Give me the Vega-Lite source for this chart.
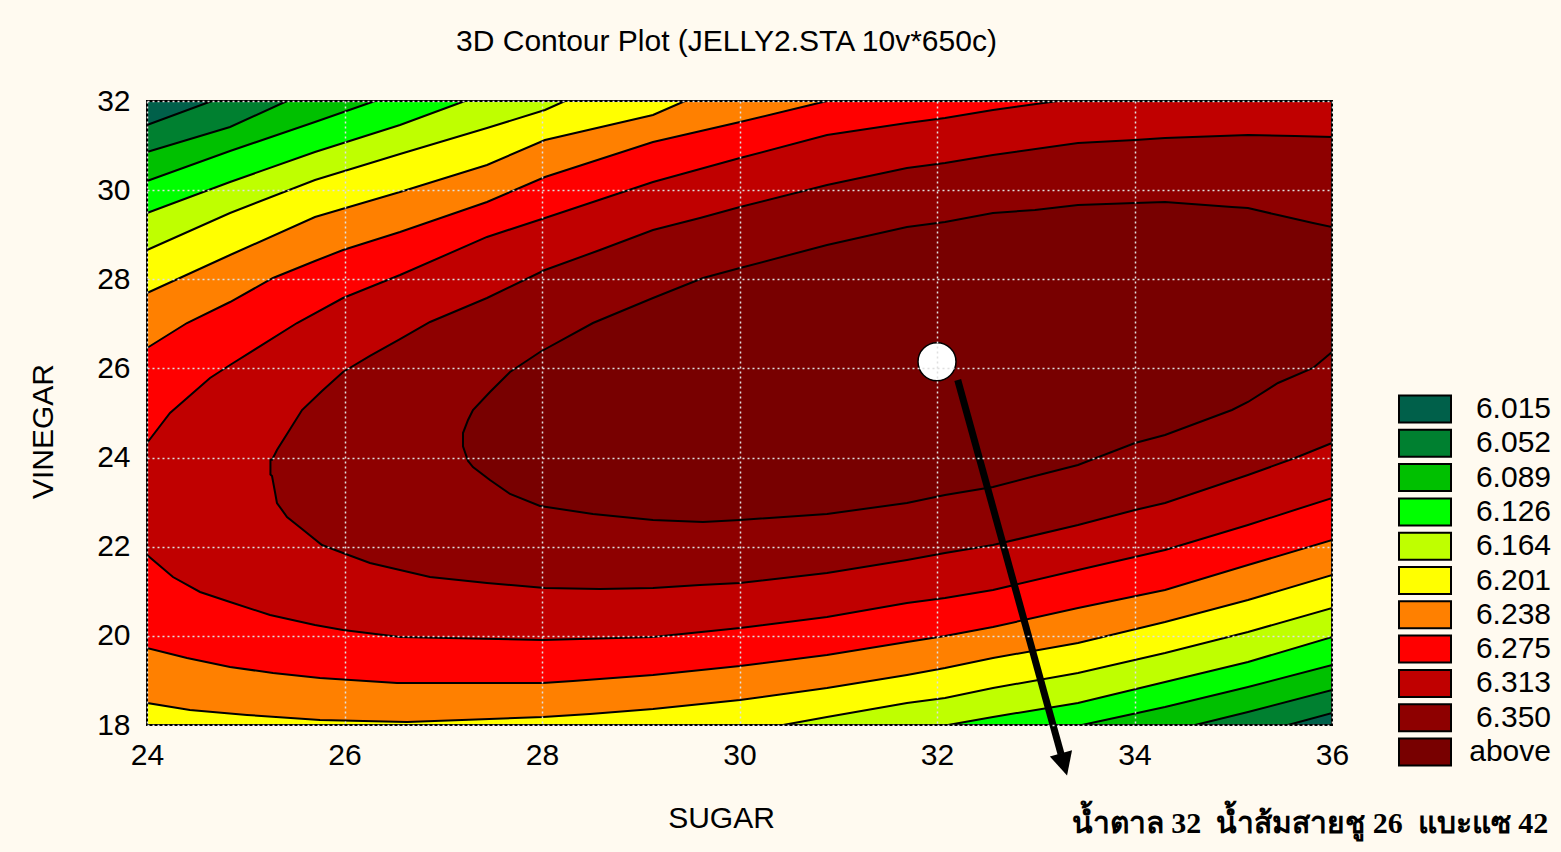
{
"$schema": "https://vega.github.io/schema/vega-lite/v6.json",
"width": 1185, "height": 624,
"autosize": {"type": "none"},
"padding": {"left": 147, "top": 101, "right": 229, "bottom": 127},
"background": "#FFFAF0",
"title": {"text": "3D Contour Plot (JELLY2.STA 10v*650c)", "font": "Liberation Sans", "fontSize": 30, "fontWeight": "normal", "color": "#000", "anchor": "middle", "dx": -13, "offset": 5, "baseline": "alphabetic"},
"config": {
  "view": {"stroke": "#000", "strokeWidth": 2},
  "axis": {"labelFont": "Liberation Sans", "labelFontSize": 30, "labelColor": "#000", "titleFont": "Liberation Sans", "titleFontSize": 30, "titleFontWeight": "normal", "titleColor": "#000", "ticks": false, "domain": false, "grid": true, "gridColor": "#e0e0e0", "gridDash": [2, 3], "gridWidth": 1.5, "labelFlush": false, "labelOverlap": false, "format": "d"}
},
"layer": [
{
  "data": {"values": [
    {"id":"bg","band":"6.313","x":24,"lo":18,"hi":32},{"id":"bg","band":"6.313","x":36,"lo":18,"hi":32},
    {"id":"t8","band":"6.275","x":24.0,"lo":24.327,"hi":32},{"id":"t8","band":"6.275","x":24.233,"lo":25.0,"hi":32},{"id":"t8","band":"6.275","x":24.638,"lo":25.785,"hi":32},{"id":"t8","band":"6.275","x":24.841,"lo":26.077,"hi":32},{"id":"t8","band":"6.275","x":25.519,"lo":27.019,"hi":32},{"id":"t8","band":"6.275","x":25.985,"lo":27.58,"hi":32},{"id":"t8","band":"6.275","x":26.562,"lo":28.096,"hi":32},{"id":"t8","band":"6.275","x":27.443,"lo":28.95,"hi":32},{"id":"t8","band":"6.275","x":28.03,"lo":29.375,"hi":32},{"id":"t8","band":"6.275","x":29.124,"lo":30.183,"hi":32},{"id":"t8","band":"6.275","x":30.005,"lo":30.721,"hi":32},{"id":"t8","band":"6.275","x":30.886,"lo":31.237,"hi":32},{"id":"t8","band":"6.275","x":31.696,"lo":31.506,"hi":32},{"id":"t8","band":"6.275","x":32.081,"lo":31.619,"hi":32},{"id":"t8","band":"6.275","x":32.567,"lo":31.798,"hi":32},{"id":"t8","band":"6.275","x":33.225,"lo":32,"hi":32},
    {"id":"t7","band":"6.238","x":24.0,"lo":26.458,"hi":32},{"id":"t7","band":"6.238","x":24.405,"lo":27.019,"hi":32},{"id":"t7","band":"6.238","x":24.841,"lo":27.49,"hi":32},{"id":"t7","band":"6.238","x":25.276,"lo":28.029,"hi":32},{"id":"t7","band":"6.238","x":25.701,"lo":28.41,"hi":32},{"id":"t7","band":"6.238","x":25.985,"lo":28.657,"hi":32},{"id":"t7","band":"6.238","x":26.562,"lo":29.061,"hi":32},{"id":"t7","band":"6.238","x":27.443,"lo":29.734,"hi":32},{"id":"t7","band":"6.238","x":28.03,"lo":30.295,"hi":32},{"id":"t7","band":"6.238","x":29.124,"lo":31.08,"hi":32},{"id":"t7","band":"6.238","x":30.005,"lo":31.529,"hi":32},{"id":"t7","band":"6.238","x":30.886,"lo":32,"hi":32},
    {"id":"t6","band":"6.201","x":24.0,"lo":27.692,"hi":32},{"id":"t6","band":"6.201","x":24.841,"lo":28.545,"hi":32},{"id":"t6","band":"6.201","x":25.701,"lo":29.397,"hi":32},{"id":"t6","band":"6.201","x":26.562,"lo":29.958,"hi":32},{"id":"t6","band":"6.201","x":27.443,"lo":30.564,"hi":32},{"id":"t6","band":"6.201","x":28.03,"lo":31.125,"hi":32},{"id":"t6","band":"6.201","x":29.124,"lo":31.686,"hi":32},{"id":"t6","band":"6.201","x":29.448,"lo":32,"hi":32},
    {"id":"t5","band":"6.164","x":24.0,"lo":28.657,"hi":32},{"id":"t5","band":"6.164","x":24.841,"lo":29.487,"hi":32},{"id":"t5","band":"6.164","x":25.701,"lo":30.228,"hi":32},{"id":"t5","band":"6.164","x":26.562,"lo":30.811,"hi":32},{"id":"t5","band":"6.164","x":27.443,"lo":31.394,"hi":32},{"id":"t5","band":"6.164","x":28.03,"lo":31.798,"hi":32},{"id":"t5","band":"6.164","x":28.233,"lo":32,"hi":32},
    {"id":"t4","band":"6.126","x":24.0,"lo":29.487,"hi":32},{"id":"t4","band":"6.126","x":24.841,"lo":30.183,"hi":32},{"id":"t4","band":"6.126","x":25.701,"lo":30.856,"hi":32},{"id":"t4","band":"6.126","x":26.562,"lo":31.462,"hi":32},{"id":"t4","band":"6.126","x":27.22,"lo":32,"hi":32},
    {"id":"t3","band":"6.089","x":24.0,"lo":30.205,"hi":32},{"id":"t3","band":"6.089","x":24.841,"lo":30.878,"hi":32},{"id":"t3","band":"6.089","x":25.701,"lo":31.529,"hi":32},{"id":"t3","band":"6.089","x":26.309,"lo":32,"hi":32},
    {"id":"t2","band":"6.052","x":24.0,"lo":30.856,"hi":32},{"id":"t2","band":"6.052","x":24.841,"lo":31.417,"hi":32},{"id":"t2","band":"6.052","x":25.418,"lo":32,"hi":32},
    {"id":"t1","band":"6.015","x":24.0,"lo":31.462,"hi":32},{"id":"t1","band":"6.015","x":24.658,"lo":32,"hi":32},
    {"id":"b8","band":"6.275","x":24.0,"lo":18,"hi":21.814},{"id":"b8","band":"6.275","x":24.263,"lo":18,"hi":21.32},{"id":"b8","band":"6.275","x":24.537,"lo":18,"hi":20.984},{"id":"b8","band":"6.275","x":24.841,"lo":18,"hi":20.76},{"id":"b8","band":"6.275","x":25.246,"lo":18,"hi":20.468},{"id":"b8","band":"6.275","x":25.701,"lo":18,"hi":20.243},{"id":"b8","band":"6.275","x":25.985,"lo":18,"hi":20.131},{"id":"b8","band":"6.275","x":26.562,"lo":18,"hi":19.974},{"id":"b8","band":"6.275","x":28.01,"lo":18,"hi":19.907},{"id":"b8","band":"6.275","x":29.124,"lo":18,"hi":19.974},{"id":"b8","band":"6.275","x":30.005,"lo":18,"hi":20.176},{"id":"b8","band":"6.275","x":30.886,"lo":18,"hi":20.423},{"id":"b8","band":"6.275","x":31.696,"lo":18,"hi":20.737},{"id":"b8","band":"6.275","x":32.081,"lo":18,"hi":20.849},{"id":"b8","band":"6.275","x":32.567,"lo":18,"hi":21.029},{"id":"b8","band":"6.275","x":33.428,"lo":18,"hi":21.478},{"id":"b8","band":"6.275","x":34.309,"lo":18,"hi":21.926},{"id":"b8","band":"6.275","x":35.149,"lo":18,"hi":22.487},{"id":"b8","band":"6.275","x":36.0,"lo":18,"hi":23.093},
    {"id":"b7","band":"6.238","x":24.0,"lo":18,"hi":19.727},{"id":"b7","band":"6.238","x":24.405,"lo":18,"hi":19.503},{"id":"b7","band":"6.238","x":24.841,"lo":18,"hi":19.301},{"id":"b7","band":"6.238","x":25.276,"lo":18,"hi":19.167},{"id":"b7","band":"6.238","x":25.752,"lo":18,"hi":19.054},{"id":"b7","band":"6.238","x":26.532,"lo":18,"hi":18.942},{"id":"b7","band":"6.238","x":28.01,"lo":18,"hi":18.942},{"id":"b7","band":"6.238","x":28.314,"lo":18,"hi":18.987},{"id":"b7","band":"6.238","x":29.124,"lo":18,"hi":19.122},{"id":"b7","band":"6.238","x":30.005,"lo":18,"hi":19.324},{"id":"b7","band":"6.238","x":30.886,"lo":18,"hi":19.57},{"id":"b7","band":"6.238","x":31.696,"lo":18,"hi":19.862},{"id":"b7","band":"6.238","x":32.081,"lo":18,"hi":19.997},{"id":"b7","band":"6.238","x":32.567,"lo":18,"hi":20.199},{"id":"b7","band":"6.238","x":33.428,"lo":18,"hi":20.625},{"id":"b7","band":"6.238","x":34.309,"lo":18,"hi":21.029},{"id":"b7","band":"6.238","x":35.149,"lo":18,"hi":21.59},{"id":"b7","band":"6.238","x":36.0,"lo":18,"hi":22.15},
    {"id":"b6","band":"6.201","x":24.0,"lo":18,"hi":18.494},{"id":"b6","band":"6.201","x":24.435,"lo":18,"hi":18.337},{"id":"b6","band":"6.201","x":25.013,"lo":18,"hi":18.225},{"id":"b6","band":"6.201","x":25.752,"lo":18,"hi":18.112},{"id":"b6","band":"6.201","x":26.633,"lo":18,"hi":18.067},{"id":"b6","band":"6.201","x":28.01,"lo":18,"hi":18.18},{"id":"b6","band":"6.201","x":28.486,"lo":18,"hi":18.247},{"id":"b6","band":"6.201","x":29.124,"lo":18,"hi":18.359},{"id":"b6","band":"6.201","x":30.005,"lo":18,"hi":18.561},{"id":"b6","band":"6.201","x":30.886,"lo":18,"hi":18.83},{"id":"b6","band":"6.201","x":31.696,"lo":18,"hi":19.122},{"id":"b6","band":"6.201","x":32.081,"lo":18,"hi":19.279},{"id":"b6","band":"6.201","x":32.567,"lo":18,"hi":19.503},{"id":"b6","band":"6.201","x":33.428,"lo":18,"hi":19.84},{"id":"b6","band":"6.201","x":34.309,"lo":18,"hi":20.311},{"id":"b6","band":"6.201","x":35.149,"lo":18,"hi":20.804},{"id":"b6","band":"6.201","x":36.0,"lo":18,"hi":21.365},
    {"id":"b5","band":"6.164","x":30.441,"lo":18,"hi":18},{"id":"b5","band":"6.164","x":30.886,"lo":18,"hi":18.18},{"id":"b5","band":"6.164","x":31.696,"lo":18,"hi":18.494},{"id":"b5","band":"6.164","x":32.081,"lo":18,"hi":18.606},{"id":"b5","band":"6.164","x":32.567,"lo":18,"hi":18.83},{"id":"b5","band":"6.164","x":33.428,"lo":18,"hi":19.167},{"id":"b5","band":"6.164","x":34.309,"lo":18,"hi":19.615},{"id":"b5","band":"6.164","x":35.149,"lo":18,"hi":20.087},{"id":"b5","band":"6.164","x":36.0,"lo":18,"hi":20.625},
    {"id":"b4","band":"6.126","x":32.111,"lo":18,"hi":18},{"id":"b4","band":"6.126","x":32.567,"lo":18,"hi":18.18},{"id":"b4","band":"6.126","x":33.428,"lo":18,"hi":18.494},{"id":"b4","band":"6.126","x":34.309,"lo":18,"hi":18.965},{"id":"b4","band":"6.126","x":35.149,"lo":18,"hi":19.413},{"id":"b4","band":"6.126","x":36.0,"lo":18,"hi":19.974},
    {"id":"b3","band":"6.089","x":33.468,"lo":18,"hi":18},{"id":"b3","band":"6.089","x":34.309,"lo":18,"hi":18.404},{"id":"b3","band":"6.089","x":35.149,"lo":18,"hi":18.853},{"id":"b3","band":"6.089","x":36.0,"lo":18,"hi":19.346},
    {"id":"b2","band":"6.052","x":34.613,"lo":18,"hi":18},{"id":"b2","band":"6.052","x":35.149,"lo":18,"hi":18.292},{"id":"b2","band":"6.052","x":36.0,"lo":18,"hi":18.786},
    {"id":"b1","band":"6.015","x":35.554,"lo":18,"hi":18},{"id":"b1","band":"6.015","x":36.0,"lo":18,"hi":18.27},
    {"id":"i9","band":"6.350","x":25.25,"lo":23.62,"hi":23.95},{"id":"i9","band":"6.350","x":25.266,"lo":23.586,"hi":23.95},{"id":"i9","band":"6.350","x":25.296,"lo":23.228,"hi":24.08},{"id":"i9","band":"6.350","x":25.316,"lo":22.981,"hi":24.17},{"id":"i9","band":"6.350","x":25.418,"lo":22.667,"hi":24.529},{"id":"i9","band":"6.350","x":25.57,"lo":22.397,"hi":25.067},{"id":"i9","band":"6.350","x":25.772,"lo":22.038,"hi":25.494},{"id":"i9","band":"6.350","x":25.985,"lo":21.859,"hi":25.92},{"id":"i9","band":"6.350","x":26.258,"lo":21.635,"hi":26.279},{"id":"i9","band":"6.350","x":26.562,"lo":21.478,"hi":26.66},{"id":"i9","band":"6.350","x":26.866,"lo":21.32,"hi":27.042},{"id":"i9","band":"6.350","x":27.443,"lo":21.186,"hi":27.58},{"id":"i9","band":"6.350","x":28.03,"lo":21.074,"hi":28.208},{"id":"i9","band":"6.350","x":28.587,"lo":21.051,"hi":28.657},{"id":"i9","band":"6.350","x":29.124,"lo":21.074,"hi":29.106},{"id":"i9","band":"6.350","x":29.6,"lo":21.141,"hi":29.375},{"id":"i9","band":"6.350","x":30.005,"lo":21.186,"hi":29.622},{"id":"i9","band":"6.350","x":30.886,"lo":21.41,"hi":30.115},{"id":"i9","band":"6.350","x":31.696,"lo":21.702,"hi":30.497},{"id":"i9","band":"6.350","x":32.081,"lo":21.859,"hi":30.609},{"id":"i9","band":"6.350","x":32.567,"lo":22.038,"hi":30.788},{"id":"i9","band":"6.350","x":33.428,"lo":22.487,"hi":31.058},{"id":"i9","band":"6.350","x":34.005,"lo":22.824,"hi":31.125},{"id":"i9","band":"6.350","x":34.309,"lo":22.981,"hi":31.17},{"id":"i9","band":"6.350","x":35.149,"lo":23.609,"hi":31.237},{"id":"i9","band":"6.350","x":35.625,"lo":23.99,"hi":31.215},{"id":"i9","band":"6.350","x":36.0,"lo":24.327,"hi":31.192},
    {"id":"i10","band":"above","x":27.2,"lo":24.25,"hi":24.55},{"id":"i10","band":"above","x":27.251,"lo":23.923,"hi":24.843},{"id":"i10","band":"above","x":27.301,"lo":23.788,"hi":25.067},{"id":"i10","band":"above","x":27.473,"lo":23.497,"hi":25.471},{"id":"i10","band":"above","x":27.676,"lo":23.183,"hi":25.92},{"id":"i10","band":"above","x":27.98,"lo":22.913,"hi":26.369},{"id":"i10","band":"above","x":28.516,"lo":22.734,"hi":27.019},{"id":"i10","band":"above","x":29.124,"lo":22.599,"hi":27.58},{"id":"i10","band":"above","x":29.63,"lo":22.554,"hi":28.029},{"id":"i10","band":"above","x":30.005,"lo":22.599,"hi":28.253},{"id":"i10","band":"above","x":30.886,"lo":22.734,"hi":28.769},{"id":"i10","band":"above","x":31.696,"lo":22.981,"hi":29.173},{"id":"i10","band":"above","x":32.081,"lo":23.16,"hi":29.285},{"id":"i10","band":"above","x":32.567,"lo":23.34,"hi":29.487},{"id":"i10","band":"above","x":32.992,"lo":23.587,"hi":29.555},{"id":"i10","band":"above","x":33.428,"lo":23.833,"hi":29.667},{"id":"i10","band":"above","x":34.005,"lo":24.327,"hi":29.712},{"id":"i10","band":"above","x":34.309,"lo":24.506,"hi":29.734},{"id":"i10","band":"above","x":34.987,"lo":25.067,"hi":29.622},{"id":"i10","band":"above","x":35.149,"lo":25.247,"hi":29.599},{"id":"i10","band":"above","x":35.453,"lo":25.673,"hi":29.442},{"id":"i10","band":"above","x":35.808,"lo":26.01,"hi":29.263},{"id":"i10","band":"above","x":36.0,"lo":26.369,"hi":29.173}
  ]},
  "mark": {"type": "area", "stroke": "#000", "strokeWidth": 2, "opacity": 1, "interpolate": "linear"},
  "encoding": {
    "x": {"field": "x", "type": "quantitative", "scale": {"domain": [24, 36], "nice": false, "zero": false},
          "axis": {"values": [24, 26, 28, 30, 32, 34, 36], "format": "d", "zindex": 1, "title": "SUGAR", "titleX": 574, "titleY": 93, "titleBaseline": "middle", "labelPadding": 15}},
    "y": {"field": "lo", "type": "quantitative", "scale": {"domain": [18, 32], "nice": false, "zero": false},
          "axis": {"values": [18, 20, 22, 24, 26, 28, 30, 32], "format": "d", "zindex": 1, "title": "VINEGAR", "titleX": -104, "titleY": 330, "titleAngle": 270, "titleBaseline": "middle", "titleAlign": "center", "labelPadding": 17}},
    "y2": {"field": "hi"},
    "color": {"field": "band", "type": "nominal", "sort": null,
      "scale": {"domain": ["6.015", "6.052", "6.089", "6.126", "6.164", "6.201", "6.238", "6.275", "6.313", "6.350", "above"],
                "range": ["#00604A", "#008030", "#00C000", "#00FF00", "#BFFF00", "#FFFF00", "#FF8000", "#FF0000", "#C00000", "#8E0000", "#780000"]},
      "legend": {"title": null, "orient": "none", "legendX": 1263, "legendY": 293, "padding": 0, "symbolType": "M-2,-1.04H2V1.04H-2Z", "symbolSize": 676, "symbolStrokeColor": "#000", "symbolStrokeWidth": 2, "symbolOpacity": 1, "labelFont": "Liberation Sans", "labelFontSize": 30, "labelColor": "#000", "labelAlign": "right", "labelOffset": 111, "rowPadding": -1.7}},
    "detail": {"field": "id"}
  }
},
{
  "data": {"values": [{"x": 32.21, "y": 25.74, "x2": 33.256, "y2": 17.349}]},
  "mark": {"type": "rule", "color": "#000", "strokeWidth": 7, "strokeCap": "butt"},
  "encoding": {
    "x": {"field": "x", "type": "quantitative", "scale": {"domain": [24, 36], "nice": false, "zero": false}},
    "y": {"field": "y", "type": "quantitative", "scale": {"domain": [18, 32], "nice": false, "zero": false}},
    "x2": {"field": "x2"}, "y2": {"field": "y2"}
  }
},
{
  "data": {"values": [{"x": 33.286, "y": 17.114}]},
  "mark": {"type": "point", "shape": "M-1,-1L1,-1L0,1Z", "filled": true, "color": "#000", "size": 529, "angle": 344.6, "opacity": 1},
  "encoding": {
    "x": {"field": "x", "type": "quantitative", "scale": {"domain": [24, 36], "nice": false, "zero": false}},
    "y": {"field": "y", "type": "quantitative", "scale": {"domain": [18, 32], "nice": false, "zero": false}}
  }
},
{
  "data": {"values": [{"x": 32, "y": 26.15}]},
  "mark": {"type": "point", "shape": "circle", "filled": true, "fill": "#fff", "stroke": "#000", "strokeWidth": 1.5, "size": 1444, "opacity": 1},
  "encoding": {
    "x": {"field": "x", "type": "quantitative", "scale": {"domain": [24, 36], "nice": false, "zero": false}},
    "y": {"field": "y", "type": "quantitative", "scale": {"domain": [18, 32], "nice": false, "zero": false}}
  }
},
{
  "data": {"values": [{"x": 38.19, "y": 15.58, "label": "น้ำตาล 32 \u00a0น้ำส้มสายชู 26 \u00a0แบะแซ 42"}]},
  "mark": {"type": "text", "align": "right", "baseline": "alphabetic", "font": "Liberation Serif", "fontSize": 30, "fontWeight": "bold", "color": "#000"},
  "encoding": {
    "x": {"field": "x", "type": "quantitative", "scale": {"domain": [24, 36], "nice": false, "zero": false}},
    "y": {"field": "y", "type": "quantitative", "scale": {"domain": [18, 32], "nice": false, "zero": false}},
    "text": {"field": "label"}
  }
}
]
}
